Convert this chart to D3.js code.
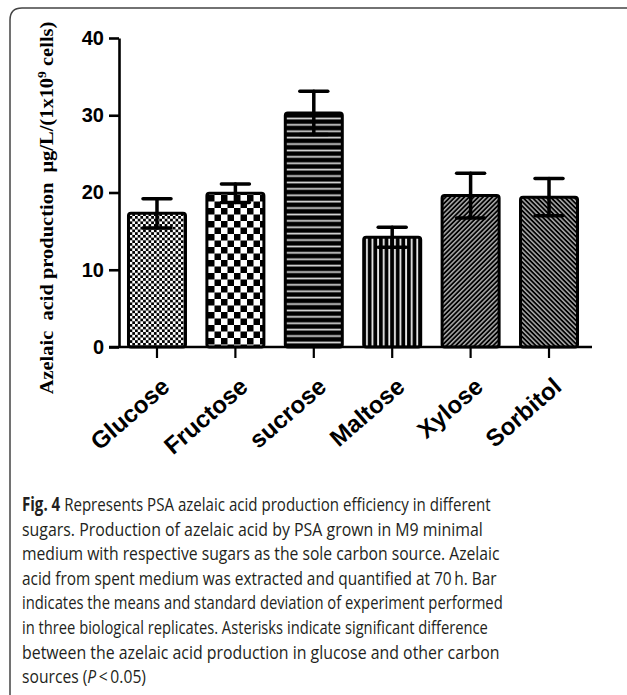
<!DOCTYPE html>
<html>
<head>
<meta charset="utf-8">
<script src="https://cdn.jsdelivr.net/npm/d3@7"></script>
<style>
  body { margin: 0; background: #fff; }
  svg { display: block; }
</style>
</head>
<body>
<script>
// values (mean, sd)
var sugars = ['Glucose', 'Fructose', 'sucrose', 'Maltose', 'Xylose', 'Sorbitol'];
var means = [17.3, 19.9, 30.3, 14.2, 19.6, 19.4];
var sds = [1.9, 1.2, 2.8, 1.3, 2.9, 2.4];
var yTicks = [0, 10, 20, 30, 40];
var patternIds = ['pFine', 'pCheck', 'pHoriz', 'pVert', 'pDiagA', 'pDiagB'];

var captionLines = [
  'Represents PSA azelaic acid production efficiency in different',
  'sugars. Production of azelaic acid by PSA grown in M9 minimal',
  'medium with respective sugars as the sole carbon source. Azelaic',
  'acid from spent medium was extracted and quantified at 70\u2009h. Bar',
  'indicates the means and standard deviation of experiment performed',
  'in three biological replicates. Asterisks indicate significant difference',
  'between the azelaic acid production in glucose and other carbon',
  'sources ('
];
var captionEnds = [491, 483, 500, 497, 503, 488, 500, 146];

var W = 627, H = 695;
var svg = d3.select('body').append('svg').attr('width', W).attr('height', H);

// frame
svg.append('path')
  .attr('d', 'M10,' + H + ' L10,20 Q10,8 22,8 L' + W + ',8')
  .attr('fill', 'none').attr('stroke', '#444').attr('stroke-width', 1.5);

// patterns
var defs = svg.append('defs');
var p;
p = defs.append('pattern').attr('id', 'pFine').attr('patternUnits', 'userSpaceOnUse').attr('width', 5.4).attr('height', 5.4);
p.append('rect').attr('width', 5.4).attr('height', 5.4).attr('fill', '#fff');
p.append('rect').attr('width', 2.7).attr('height', 2.7).attr('fill', '#000');
p.append('rect').attr('x', 2.7).attr('y', 2.7).attr('width', 2.7).attr('height', 2.7).attr('fill', '#000');

p = defs.append('pattern').attr('id', 'pCheck').attr('patternUnits', 'userSpaceOnUse').attr('width', 13).attr('height', 13);
p.append('rect').attr('width', 13).attr('height', 13).attr('fill', '#fff');
p.append('rect').attr('width', 6.5).attr('height', 6.5).attr('fill', '#000');
p.append('rect').attr('x', 6.5).attr('y', 6.5).attr('width', 6.5).attr('height', 6.5).attr('fill', '#000');

p = defs.append('pattern').attr('id', 'pHoriz').attr('patternUnits', 'userSpaceOnUse').attr('width', 10).attr('height', 6.4);
p.append('rect').attr('width', 10).attr('height', 6.4).attr('fill', '#000');
p.append('rect').attr('y', 2.4).attr('width', 10).attr('height', 1.7).attr('fill', '#ddd');

p = defs.append('pattern').attr('id', 'pVert').attr('patternUnits', 'userSpaceOnUse').attr('width', 5.6).attr('height', 10);
p.append('rect').attr('width', 5.6).attr('height', 10).attr('fill', '#000');
p.append('rect').attr('x', 2).attr('width', 1.8).attr('height', 10).attr('fill', '#eee');

[['pDiagA', 45], ['pDiagB', -45]].forEach(function(d) {
  var q = defs.append('pattern').attr('id', d[0]).attr('patternUnits', 'userSpaceOnUse')
    .attr('width', 3.3).attr('height', 10).attr('patternTransform', 'rotate(' + d[1] + ')');
  q.append('rect').attr('width', 3.3).attr('height', 10).attr('fill', '#000');
  q.append('rect').attr('width', 1.5).attr('height', 10).attr('fill', '#aaa');
});

// scales
var y = d3.scaleLinear().domain([0, 40]).range([347, 38]);
var x = d3.scaleBand().domain(sugars).range([119, 587]).paddingInner(0.273).paddingOuter(0.121);

// y axis
var gy = svg.append('g').attr('transform', 'translate(119,0)')
  .call(d3.axisLeft(y).tickValues(yTicks).tickSize(10).tickSizeOuter(0).tickPadding(5));
gy.select('.domain').attr('stroke-width', 2.6);
gy.selectAll('.tick line').attr('stroke-width', 2.6);
gy.selectAll('.tick text').attr('font-family', 'Liberation Sans, Arial, sans-serif')
  .attr('font-weight', 'bold').attr('font-size', 20).attr('fill', '#000');

// bars
svg.selectAll('rect.bar').data(sugars).enter().append('rect')
  .attr('class', 'bar')
  .attr('x', function(d) { return x(d); })
  .attr('y', function(d, i) { return y(means[i]); })
  .attr('width', x.bandwidth())
  .attr('height', function(d, i) { return y(0) - y(means[i]); })
  .attr('rx', 2.5)
  .attr('fill', function(d, i) { return 'url(#' + patternIds[i] + ')'; })
  .attr('stroke', '#000').attr('stroke-width', 3);

// error bars
var eg = svg.selectAll('g.err').data(sugars).enter().append('g').attr('class', 'err')
  .attr('stroke', '#000').attr('stroke-width', 3.5).attr('stroke-linecap', 'round');
eg.append('line')
  .attr('x1', function(d) { return x(d) + x.bandwidth() / 2; })
  .attr('x2', function(d) { return x(d) + x.bandwidth() / 2; })
  .attr('y1', function(d, i) { return y(means[i] - sds[i]); })
  .attr('y2', function(d, i) { return y(means[i] + sds[i]); });
[1, -1].forEach(function(s) {
  eg.append('line')
    .attr('x1', function(d) { return x(d) + x.bandwidth() / 2 - 14; })
    .attr('x2', function(d) { return x(d) + x.bandwidth() / 2 + 14; })
    .attr('y1', function(d, i) { return y(means[i] + s * sds[i]); })
    .attr('y2', function(d, i) { return y(means[i] + s * sds[i]); });
});

// x axis
var gx = svg.append('g').attr('transform', 'translate(0,347)')
  .call(d3.axisBottom(x).tickSize(11).tickSizeOuter(0));
gx.select('.domain').attr('d', 'M109,0H592').attr('stroke-width', 2.6);
gx.selectAll('.tick line').attr('stroke-width', 2.2);
gx.selectAll('.tick text')
  .attr('x', 0).attr('y', 0).attr('dy', 0)
  .attr('transform', 'translate(14,42) rotate(-41)')
  .attr('text-anchor', 'end')
  .attr('font-family', 'Liberation Sans, Arial, sans-serif')
  .attr('font-weight', 'bold').attr('font-size', 24).attr('fill', '#000');

// y label, stretched to the reference length
var yl = svg.append('text')
  .attr('text-anchor', 'middle')
  .attr('font-family', 'Liberation Serif, Times New Roman, serif')
  .attr('font-weight', 'bold').attr('font-size', 18).attr('fill', '#000');
yl.append('tspan').text('Azelaic\u00a0 acid production\u00a0 \u03bcg/L/(1x10');
yl.append('tspan').attr('dy', -7).attr('font-size', 12).text('9');
yl.append('tspan').attr('dy', 7).text('\u00a0cells)');
var ylw = yl.node().getComputedTextLength();
yl.attr('transform', 'translate(53,208) rotate(-90) scale(' + (373 / ylw) + ',1)');

// caption, each line scaled to the reference width
var cap = svg.append('g').attr('font-family', 'Open Sans, Noto Sans, sans-serif')
  .attr('font-size', 19).attr('fill', '#231f20');
captionLines.forEach(function(line, i) {
  var t = cap.append('text').attr('x', 0).attr('y', 0);
  if (i === 0) {
    t.append('tspan').attr('font-weight', 'bold').text('Fig. 4');
    t.append('tspan').text(' ' + line);
  } else if (i === captionLines.length - 1) {
    t.append('tspan').text(line);
    t.append('tspan').attr('font-style', 'italic').text('P');
    t.append('tspan').text('\u2009<\u20090.05)');
  } else {
    t.text(line);
  }
  var w = t.node().getComputedTextLength();
  t.attr('transform', 'translate(22,' + (511 + i * 24.6) + ') scale(' + ((captionEnds[i] - 22) / w) + ',1)');
});
</script>
</body>
</html>
